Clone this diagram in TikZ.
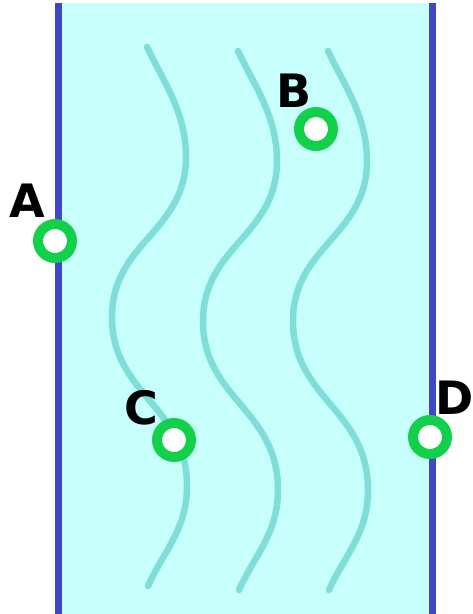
\documentclass[tikz,border=0pt]{standalone}
\usepackage{fontspec}
\usepackage{tikz}
\usetikzlibrary{positioning}
\newfontfamily\markfont{DejaVu Sans}
\definecolor{pipeFill}{HTML}{C6FFFC}
\definecolor{pipeWall}{HTML}{4046C8}
\definecolor{flowLine}{HTML}{80DEDA}
\definecolor{pointGreen}{HTML}{12D04A}
\tikzset{
  pointring/.style={circle,draw=pointGreen,fill=white,line width=10pt,
    minimum size=34pt,inner sep=0pt},
  pointlabel/.style={inner sep=0pt,text=black,
    font=\markfont\bfseries\fontsize{46}{46}\selectfont},
  wallline/.style={draw=pipeWall,line width=7pt},
  flowcurve/.style={draw=flowLine,line width=6.5pt,line cap=round}
}

\begin{document}
\begin{tikzpicture}[x=1pt,y=-1pt]
    \useasboundingbox (0,0) rectangle (473,614);
    % channel and walls
    \fill[pipeFill] (58,3) rectangle (432,614);
    \draw[wallline] (58,3) -- (58,614);
    \draw[wallline] (432,3) -- (432,614);
    % stream lines
    \foreach \cx/\dy in {149/0,240/4,330/4}{
      \draw[flowcurve] ({\cx-2},{47+\dy})
        .. controls ({\cx+14},{81+\dy}) and ({\cx+37},{112+\dy}) .. ({\cx+37},{157+\dy})
        .. controls ({\cx+37},{232+\dy}) and ({\cx-37},{242+\dy}) .. ({\cx-37},{317+\dy})
        .. controls ({\cx-37},{395+\dy}) and ({\cx+38},{405+\dy}) .. ({\cx+38},{486+\dy})
        .. controls ({\cx+38},{530+\dy}) and ({\cx+14},{552+\dy}) .. ({\cx-1},{586+\dy});
    }
    % points
    \node[pointring] (ptA) at (55,241) {};
    \node[pointring] (ptB) at (316,129) {};
    \node[pointring] (ptC) at (174,440) {};
    \node[pointring] (ptD) at (430,437) {};
    \node[pointlabel] (labA) at (27,201) {A};
    \node[pointlabel] (labB) at (294,91) {B};
    \node[pointlabel] (labC) at (141,408) {C};
    \node[pointlabel] (labD) at (455,398) {D};
  \end{tikzpicture}
\end{document}
